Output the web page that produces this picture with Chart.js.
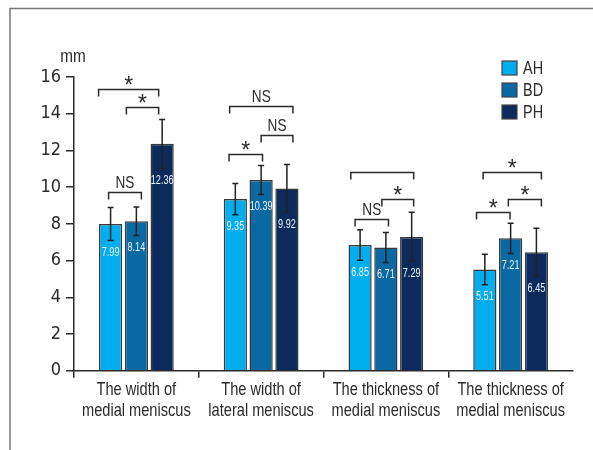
<!DOCTYPE html>
<html>
<head>
<meta charset="utf-8">
<script src="https://cdn.jsdelivr.net/npm/chart.js@4.4.1/dist/chart.umd.min.js"></script>
<style>
  body { margin: 0; background: #fff; }
  canvas { display: block; }
</style>
</head>
<body>
<canvas id="myChart" width="593" height="450"></canvas>
<script>
// data
const categories = [
  ['The width of', 'medial meniscus'],
  ['The width of', 'lateral meniscus'],
  ['The thickness of', 'medial meniscus'],
  ['The thickness of', 'medial meniscus']
];
const groups = ['AH', 'BD', 'PH'];
const valuesAH = [7.99, 9.35, 6.85, 5.51];
const valuesBD = [8.14, 10.39, 6.71, 7.21];
const valuesPH = [12.36, 9.92, 7.29, 6.45];
const sdAH = [0.9, 0.85, 0.83, 0.83];
const sdBD = [0.78, 0.79, 0.82, 0.82];
const sdPH = [1.33, 1.32, 1.34, 1.31];
const yTicks = [0, 2, 4, 6, 8, 10, 12, 14, 16];

// significance brackets: category, from bar, to bar, height (mm), label
const brackets = [
  [0, 0, 2, 15.37, '*'], [0, 1, 2, 14.37, '*'], [0, 0, 1, 9.71, 'NS'],
  [1, 0, 2, 14.4, 'NS'], [1, 1, 2, 12.83, 'NS'], [1, 0, 1, 11.83, '*'],
  [2, 0, 2, 10.8, ''], [2, 1, 2, 9.38, '*'], [2, 0, 1, 8.29, 'NS'],
  [3, 0, 2, 10.8, '*'], [3, 1, 2, 9.38, '*'], [3, 0, 1, 8.65, '*']
];
// small horizontal nudges of the bracket ends (px)
const bracketNudge = [
  [-12, -3.5], [-10, -3.5], [-2, 5],
  [-5.7, 6], [0, 6], [-6.3, 1.4],
  [-9.3, 2], [-4, 2], [-5, 2.6],
  [-1.7, 5], [-2.3, 5], [-8.3, -0.6]
];

const FONT = "'Liberation Sans', Arial, sans-serif";
const NARROW = "'DejaVu Sans Condensed', 'Liberation Sans', sans-serif";
const INK = '#2b2b2b';
const colors = ['#00adef', '#0a69a3', '#0c2a5c'];
const sds = [sdAH, sdBD, sdPH];

// squeeze text horizontally so it reads like a condensed face
function narrowText(c, txt, x, y, sx) {
  c.save();
  c.translate(x, y);
  c.scale(sx, 1);
  c.fillText(txt, 0, 0);
  c.restore();
}

// frame, axis unit, category names, legend, error bars, value labels, brackets
const extras = {
  id: 'extras',
  beforeDraw(chart) {
    const c = chart.ctx;
    c.save();
    c.strokeStyle = '#777';
    c.lineWidth = 1.5;
    c.beginPath();
    c.moveTo(10, 450);
    c.lineTo(10, 8.5);
    c.lineTo(593, 8.5);
    c.stroke();
    c.restore();
  },
  afterDatasetsDraw(chart) {
    const c = chart.ctx;
    const y = chart.scales.y;
    const x = chart.scales.x;
    c.save();

    // unit
    c.fillStyle = INK;
    c.font = '18px ' + FONT;
    c.textAlign = 'center';
    c.textBaseline = 'middle';
    narrowText(c, 'mm', 73, 57, 0.85);

    // category names under the axis
    c.font = '18.5px ' + FONT;
    categories.forEach((lines, i) => {
      const cx = x.getPixelForValue(i);
      lines.forEach((t, k) => narrowText(c, t, cx, 390 + k * 20.5, 0.79));
    });

    // legend
    c.font = '19px ' + FONT;
    c.textAlign = 'left';
    chart.data.datasets.forEach((ds, i) => {
      const ty = 61 + i * 22;
      c.fillStyle = ds.backgroundColor;
      c.fillRect(502, ty, 15, 14);
      c.strokeStyle = '#444';
      c.lineWidth = 1.2;
      c.strokeRect(502, ty, 15, 14);
      c.fillStyle = INK;
      narrowText(c, ds.label, 523, ty + 7.5, 0.76);
    });

    // error bars + value labels
    chart.data.datasets.forEach((ds, i) => {
      const meta = chart.getDatasetMeta(i);
      meta.data.forEach((bar, j) => {
        const v = ds.data[j];
        const sd = sds[i][j];
        const top = y.getPixelForValue(v + sd);
        const bot = y.getPixelForValue(v - sd);
        c.strokeStyle = '#222';
        c.lineWidth = 1.5;
        c.beginPath();
        c.moveTo(bar.x, top); c.lineTo(bar.x, bot);
        c.moveTo(bar.x - 3, top); c.lineTo(bar.x + 3, top);
        c.moveTo(bar.x - 3, bot); c.lineTo(bar.x + 3, bot);
        c.stroke();
        c.fillStyle = '#e8f4ff';
        c.font = '12px ' + FONT;
        c.textAlign = 'center';
        c.textBaseline = 'middle';
        narrowText(c, v.toFixed(2), bar.x, bot + 12, 0.76);
      });
    });

    // brackets
    brackets.forEach(([cat, a, b, level, label], k) => {
      const x1 = chart.getDatasetMeta(a).data[cat].x + bracketNudge[k][0];
      const x2 = chart.getDatasetMeta(b).data[cat].x + bracketNudge[k][1];
      const ly = Math.round(y.getPixelForValue(level)) + 0.5;
      c.strokeStyle = INK;
      c.lineWidth = 1.5;
      c.beginPath();
      c.moveTo(x1, ly + 7); c.lineTo(x1, ly); c.lineTo(x2, ly); c.lineTo(x2, ly + 7);
      c.stroke();
      if (label) {
        c.fillStyle = INK;
        c.textAlign = 'center';
        c.textBaseline = 'alphabetic';
        if (label === '*') {
          c.font = '23px ' + FONT;
          c.fillText(label, (x1 + x2) / 2, ly + 3);
        } else {
          c.font = '17px ' + FONT;
          narrowText(c, label, (x1 + x2) / 2, ly - 5, 0.8);
        }
      }
    });
    c.restore();
  }
};

const ctx = document.getElementById('myChart').getContext('2d');
const myChart = new Chart(ctx, {
  type: 'bar',
  data: {
    labels: categories,
    datasets: [valuesAH, valuesBD, valuesPH].map((vals, i) => ({
      label: groups[i],
      data: vals,
      backgroundColor: colors[i],
      borderColor: '#3a3a3a',
      borderWidth: 1.5,
      barPercentage: 0.9,
      categoryPercentage: 0.62
    }))
  },
  options: {
    responsive: false,
    animation: false,
    layout: { padding: { top: 77, right: 20, left: 0, bottom: 0 } },
    plugins: {
      legend: { display: false },
      tooltip: { enabled: false }
    },
    scales: {
      x: {
        afterFit(scale) { scale.height = 79.3; },
        border: { color: INK, width: 1.5 },
        grid: {
          drawOnChartArea: false,
          tickLength: 7,
          lineWidth: 1.5,
          color: (c) => c.type === 'tick' ? INK : 'transparent'
        },
        ticks: { display: false, autoSkip: false }
      },
      y: {
        min: 0,
        max: 16,
        afterFit(scale) { scale.width = 74; },
        afterBuildTicks(scale) { scale.ticks = yTicks.map(v => ({ value: v })); },
        border: { color: INK, width: 1.5 },
        grid: {
          drawOnChartArea: false,
          tickLength: 8,
          lineWidth: 1.5,
          color: INK
        },
        ticks: {
          color: INK,
          padding: 5,
          font: { family: NARROW, size: 18 }
        }
      }
    }
  },
  plugins: [extras]
});
</script>
</body>
</html>
